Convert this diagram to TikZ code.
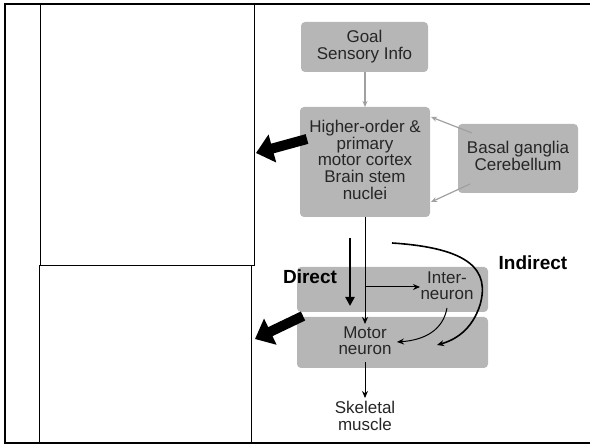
\documentclass[tikz,border=0pt]{standalone}
\usepackage{fontspec}
\setmainfont{Liberation Sans}
\usetikzlibrary{arrows.meta}
\definecolor{boxgray}{RGB}{182,182,182}
\definecolor{arrgray}{RGB}{160,160,160}
\newcommand{\mylines}[1]{\begin{tabular}{@{}c@{}}#1\end{tabular}}
\begin{document}
\begin{tikzpicture}[x=1pt,y=-1pt,
  gbox/.style={fill=boxgray,rounded corners=4pt,draw=none},
  lbl/.style={font=\fontsize{17}{16.5}\selectfont,text=black!85,inner sep=0pt},
  thinarr/.style={draw=arrgray,line width=1.2pt,-{Stealth[length=6pt,width=5pt]}},
  blkarr/.style={draw=black,line width=1pt,-{Stealth[length=7pt,width=6pt]}},
  fatarr/.style={draw=black,line width=10pt,-{Triangle[length=17pt,width=28pt]}},
  bold/.style={font=\bfseries\fontsize{19}{20}\selectfont,inner sep=0pt},
  frame/.style={draw=black,line width=0.8pt}]
\useasboundingbox (0,0) rectangle (590,446);
\renewcommand{\arraystretch}{0.97}
% outer frame
\draw[line width=2.2pt] (590,4) -- (5,4) -- (5,443) -- (590,443);
% inner rectangles
\draw[frame] (40,4) rectangle (254,265);
\draw[frame] (39,265) rectangle (251,443);
% boxes
\fill[gbox] (301,22) rectangle (428,72);
\node[lbl] (goal) at (364.5,47) {\mylines{Goal\\Sensory Info}};
\fill[gbox] (300,107) rectangle (430,217);
\node[lbl] (hi) at (365,162) {\mylines{Higher-order \&\\primary\\motor cortex\\Brain stem\\nuclei}};
\fill[gbox] (458,124) rectangle (578,193);
\node[lbl] (bg) at (518,158.5) {\mylines{Basal ganglia\\Cerebellum}};
\fill[gbox] (297,267) rectangle (488,312);
\fill[gbox] (297,317) rectangle (488,368);
\node[lbl] (inter) at (447,288) {\mylines{Inter-\\neuron}};
\node[lbl] (motor) at (365,343) {\mylines{Motor\\neuron}};
\node[lbl] (skel) at (365,418) {\mylines{Skeletal\\muscle}};
\node[bold] (direct) at (310,277) {Direct};
\node[bold] (indirect) at (533,263) {Indirect};
% coordinates
\coordinate (goalb) at (365,72);
\coordinate (hit) at (365,107);
\coordinate (bg1) at (472,133);
\coordinate (hi1) at (431,117);
\coordinate (bg2) at (470,184);
\coordinate (hi2) at (431,202);
\coordinate (hib) at (365,217);
\coordinate (mn) at (365,324);
\coordinate (br) at (365,287);
\coordinate (brend) at (420,287);
\coordinate (mnb) at (365,362);
\coordinate (skt) at (365,398);
% gray arrows
\draw[thinarr] (goalb) -- (hit);
\draw[thinarr] (bg1) -- (hi1);
\draw[thinarr] (bg2) -- (hi2);
% black connectors
\draw[blkarr] (hib) -- (mn);
\draw[blkarr] (br) -- (brend);
\draw[blkarr] (mnb) -- (skt);
\draw[blkarr] (447,308) .. controls (443,330) and (425,340) .. (397,342);
\draw[blkarr,line width=1.6pt] (392,243) .. controls (470,248) and (490,270) .. (480,305) .. controls (472,330) and (455,340) .. (437,345);
% direct arrow
\draw[draw=black,line width=2.4pt,-{Triangle[length=9pt,width=9pt]}] (350,238) -- (350,306);
% fat arrows
\draw[fatarr] (307,139) -- (256,153);
\draw[fatarr] (303,316) -- (255,339);
\end{tikzpicture}
\end{document}
